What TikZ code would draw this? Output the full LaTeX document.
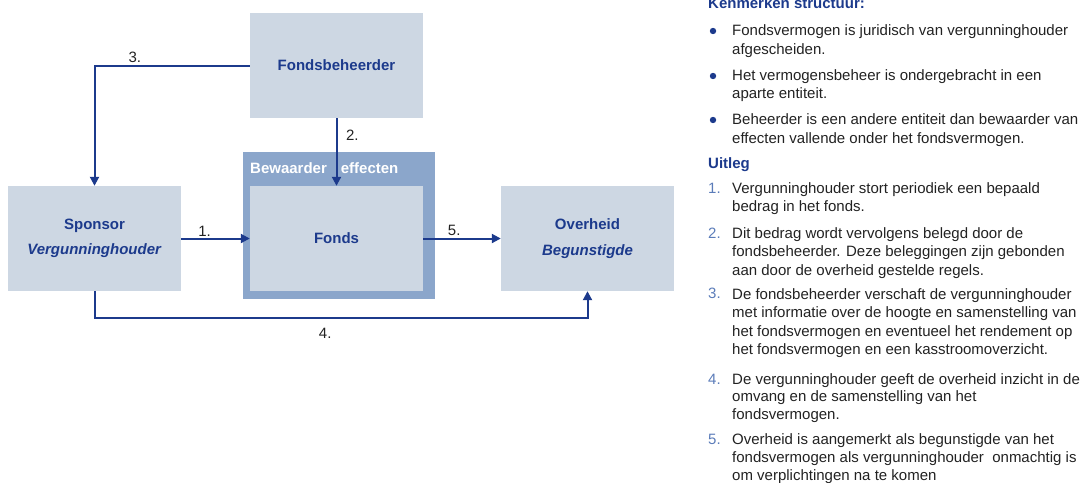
\documentclass[tikz,border=0pt]{standalone}
\usepackage{fontspec}
\setmainfont{Liberation Sans}
\usetikzlibrary{arrows.meta}
\definecolor{kdblue}{HTML}{1C3A8C}
\definecolor{kbox}{HTML}{CDD7E3}
\definecolor{kbewaar}{HTML}{8BA6CB}
\definecolor{knum}{HTML}{5B7CB9}
\definecolor{ktext}{HTML}{222222}
\tikzset{box/.style={fill=kbox, minimum width=173pt, minimum height=105pt, inner sep=0pt, text=kdblue, align=center, font=\fontsize{15}{25.5}\selectfont\bfseries},
flow/.style={draw=kdblue, line width=2pt, -{Triangle[width=9pt,length=9pt]}},
lbl/.style={font=\fontsize{15}{18}\selectfont, text=ktext, inner sep=1.5pt},
% base anchor of a multi-line node is its last line
txt/.style={font=\fontsize{15}{18.5}\selectfont, text=ktext, align=left, inner sep=0pt, anchor=base west},
head/.style={font=\fontsize{15}{18}\selectfont\bfseries, text=kdblue, inner sep=0pt, anchor=base west},
num/.style={font=\fontsize{15}{18}\selectfont, text=knum, inner sep=0pt, anchor=base west},
dot/.style={circle, fill=kdblue, minimum size=6.4pt, inner sep=0pt}}
\begin{document}
\begin{tikzpicture}[x=1pt,y=-1pt]
\useasboundingbox (0,0) rectangle (1087,482);
% boxes
\node[fill=kbewaar, minimum width=192pt, minimum height=147pt, inner sep=0pt] (bew) at (339,225.5) {};
\node[font=\fontsize{15}{18}\selectfont\bfseries, text=white, inner sep=0pt, anchor=base west] (bewlbl) at (250,173) {Bewaarder\hspace{14pt}effecten};
\node[box] (fb) at (336.5,65.5) {Fondsbeheerder};
\node[box] (sp) at (94.5,238.5) {Sponsor\\\textit{Vergunninghouder}};
\node[box] (fonds) at (336.5,238.5) {Fonds};
\node[box] (ov) at (587.5,238.5) {Overheid\\\textit{Begunstigde}};

% flows
\draw[flow] (sp.east) -- node[lbl, pos=.34, above] (l1) {1.} (fonds.west);
\draw[flow] (fb.south) -- node[lbl, pos=.25, right=7pt] (l2) {2.} (fonds.north);
\draw[flow] (fb.west) -| node[lbl, pos=.37, above] (l3) {3.} (sp.north);
\draw[flow] (sp.south) -- ++(0,27) -| node[lbl, pos=.234, below=7pt] (l4) {4.} (ov.south);
\draw[flow] (fonds.east) -- node[lbl, pos=.40, above] (l5) {5.} (ov.west);

% kenmerken
\node[head] (kop1) at (708,8) {Kenmerken structuur:};
\foreach \y/\n in {31/b1,76/b2,120/b3}
  \node[dot] (\n) at (713,\y) {};
\node[txt] (k1) at (732,54) {Fondsvermogen is juridisch van vergunninghouder\\afgescheiden.};
\node[txt] (k2) at (732,98.5) {Het vermogensbeheer is ondergebracht in een\\aparte entiteit.};
\node[txt] (k3) at (732,143) {Beheerder is een andere entiteit dan bewaarder van\\effecten vallende onder het fondsvermogen.};

% uitleg
\node[head] (kop2) at (708,168) {Uitleg};
\foreach \y/\n in {193/1,238/2,298/3,384/4,444/5}
  \node[num] (n\n) at (708,\y) {\n.};
\node[txt] (u1) at (732,211.5) {Vergunninghouder stort periodiek een bepaald\\bedrag in het fonds.};
\node[txt] (u2) at (732,275) {Dit bedrag wordt vervolgens belegd door de\\fondsbeheerder. Deze beleggingen zijn gebonden\\aan door de overheid gestelde regels.};
\node[txt] (u3) at (732,354.5) {De fondsbeheerder verschaft de vergunninghouder\\met informatie over de hoogte en samenstelling van\\het fondsvermogen en eventueel het rendement op\\het fondsvermogen en een kasstroomoverzicht.};
\node[txt, font=\fontsize{15}{17.5}\selectfont] (u4) at (732,419) {De vergunninghouder geeft de overheid inzicht in de\\omvang en de samenstelling van het\\fondsvermogen.};
\node[txt, font=\fontsize{15}{18}\selectfont] (u5) at (732,480) {Overheid is aangemerkt als begunstigde van het\\fondsvermogen als vergunninghouder\ \ onmachtig is\\om verplichtingen na te komen};
\end{tikzpicture}
\end{document}
